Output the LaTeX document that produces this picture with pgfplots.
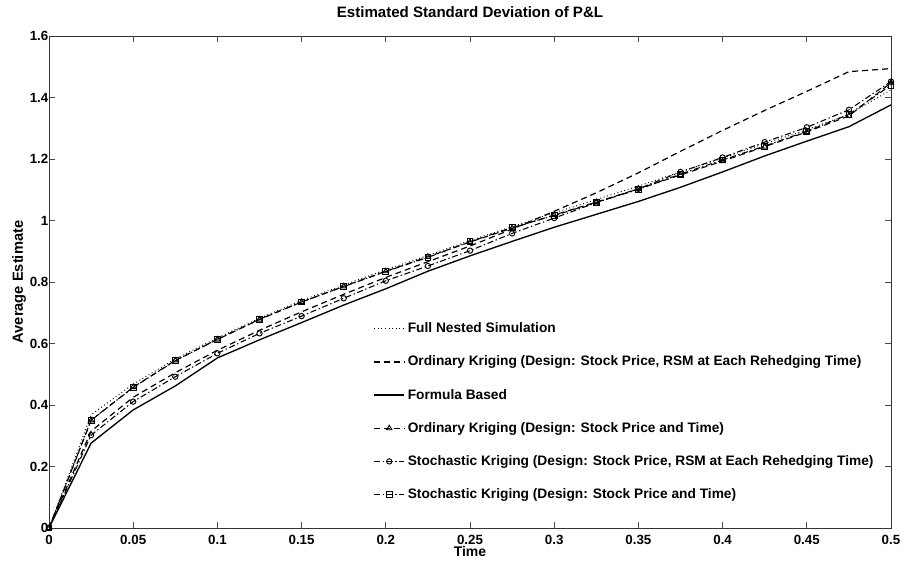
\documentclass[border=0pt]{standalone}
\usepackage{fontspec}
\setmainfont{Liberation Sans}
\usepackage{pgfplots}
\pgfplotsset{compat=1.18}
\usetikzlibrary{calc}
\begin{document}
\begin{tikzpicture}
\begin{axis}[
  scale only axis, width=631.5pt, height=369pt,
  xmin=0, xmax=0.5, ymin=0, ymax=1.6,
  xtick={0,0.05,0.1,0.15,0.2,0.25,0.3,0.35,0.4,0.45,0.5},
  ytick={0,0.2,0.4,0.6,0.8,1,1.2,1.4,1.6},
  tick align=inside, major tick length=4.5pt,
  axis line style={black!80}, tick style={black!70, line width=0.6pt},
  /pgf/number format/fixed, /pgf/number format/precision=2,
  /pgf/number format/assume math mode=true,
  tick label style={font=\bfseries\fontsize{10}{11}\selectfont},
  xticklabel style={yshift=-1.5pt},
  yticklabel style={xshift=3pt},
  title={\bfseries Estimated Standard Deviation of P\&L},
  title style={font=\fontsize{11.3}{13}\selectfont, at={(0.5,1)}, anchor=south, yshift=4pt},
  xlabel={\bfseries Time}, xlabel style={font=\fontsize{10.5}{11}\selectfont, yshift=5.5pt},
  ylabel={\bfseries Average Estimate}, ylabel style={font=\fontsize{11}{12}\selectfont, yshift=-4pt},
  legend cell align=left,
  legend style={at={(0.385,0.423)}, anchor=north west, draw=none, fill=none,
    font=\bfseries\fontsize{10.3}{11}\selectfont, row sep=11.9pt, inner sep=0pt},
  legend image code/.code={\draw[mark repeat=2,mark phase=2] plot coordinates {(0cm,0cm) (0.4cm,0cm) (0.8cm,0cm)};},
]
\coordinate (sw) at (rel axis cs:0,0);
\coordinate (ne) at (rel axis cs:1,1);
% Full Nested Simulation
\addplot[black, line width=0.7pt, dotted, mark=none] coordinates {
(0,0) (0.025,0.368) (0.05,0.468) (0.075,0.550) (0.1,0.618) (0.125,0.682) (0.15,0.740) (0.175,0.790) (0.2,0.840) (0.225,0.886) (0.25,0.935) (0.275,0.980) (0.3,1.025) (0.325,1.068) (0.35,1.112) (0.375,1.158) (0.4,1.203) (0.425,1.250) (0.45,1.295) (0.475,1.345) (0.5,1.425)};
\addlegendentry{Full Nested Simulation}
% Ordinary Kriging RSM
\addplot[black, line width=0.9pt, dash pattern=on 4.5pt off 3pt, mark=none] coordinates {
(0,0) (0.025,0.315) (0.05,0.425) (0.075,0.505) (0.1,0.578) (0.125,0.643) (0.15,0.703) (0.175,0.760) (0.2,0.815) (0.225,0.866) (0.25,0.917) (0.275,0.972) (0.3,1.030) (0.325,1.090) (0.35,1.155) (0.375,1.225) (0.4,1.293) (0.425,1.358) (0.45,1.420) (0.475,1.484) (0.5,1.494)};
\addlegendentry{Ordinary Kriging (Design: Stock Price, RSM at Each Rehedging Time)}
% Formula Based
\addplot[black, line width=1pt, solid, mark=none] coordinates {
(0,0) (0.025,0.276) (0.05,0.384) (0.075,0.462) (0.1,0.553) (0.125,0.612) (0.15,0.668) (0.175,0.725) (0.2,0.778) (0.225,0.835) (0.25,0.885) (0.275,0.932) (0.3,0.978) (0.325,1.020) (0.35,1.062) (0.375,1.108) (0.4,1.158) (0.425,1.210) (0.45,1.258) (0.475,1.305) (0.5,1.376)};
\addlegendentry{Formula Based}
% Ordinary Kriging SP&T
\addplot[black, line width=0.8pt, dash pattern=on 4.5pt off 3pt, mark=triangle, mark size=2.3pt, mark options={solid, line width=0.7pt}] coordinates {
(0,0) (0.025,0.350) (0.05,0.458) (0.075,0.545) (0.1,0.613) (0.125,0.678) (0.15,0.735) (0.175,0.786) (0.2,0.835) (0.225,0.882) (0.25,0.930) (0.275,0.975) (0.3,1.018) (0.325,1.060) (0.35,1.103) (0.375,1.148) (0.4,1.193) (0.425,1.240) (0.45,1.288) (0.475,1.340) (0.5,1.448)};
\addlegendentry{Ordinary Kriging (Design: Stock Price and Time)}
% Stochastic Kriging RSM
\addplot[black, line width=0.8pt, dash pattern=on 4.5pt off 2pt on 1pt off 2pt, mark=o, mark size=2pt, mark options={solid, line width=0.7pt}] coordinates {
(0,0) (0.025,0.302) (0.05,0.411) (0.075,0.492) (0.1,0.568) (0.125,0.633) (0.15,0.689) (0.175,0.747) (0.2,0.804) (0.225,0.852) (0.25,0.902) (0.275,0.958) (0.3,1.008) (0.325,1.058) (0.35,1.103) (0.375,1.158) (0.4,1.205) (0.425,1.255) (0.45,1.303) (0.475,1.360) (0.5,1.452)};
\addlegendentry{Stochastic Kriging (Design: Stock Price, RSM at Each Rehedging Time)}
% Stochastic Kriging SP&T
\addplot[black, line width=0.8pt, dash pattern=on 4.5pt off 2pt on 1pt off 2pt, mark=square, mark size=2.2pt, mark options={solid, line width=0.7pt}] coordinates {
(0,0) (0.025,0.351) (0.05,0.457) (0.075,0.544) (0.1,0.614) (0.125,0.679) (0.15,0.735) (0.175,0.785) (0.2,0.834) (0.225,0.880) (0.25,0.931) (0.275,0.977) (0.3,1.016) (0.325,1.059) (0.35,1.101) (0.375,1.151) (0.4,1.197) (0.425,1.242) (0.45,1.290) (0.475,1.345) (0.5,1.440)};
\addlegendentry{Stochastic Kriging (Design: Stock Price and Time)}
\end{axis}
\pgfresetboundingbox
\path ($(sw)+(-36.75pt,-24pt)$) rectangle ($(ne)+(9.75pt,27pt)$);
\end{tikzpicture}
\end{document}
